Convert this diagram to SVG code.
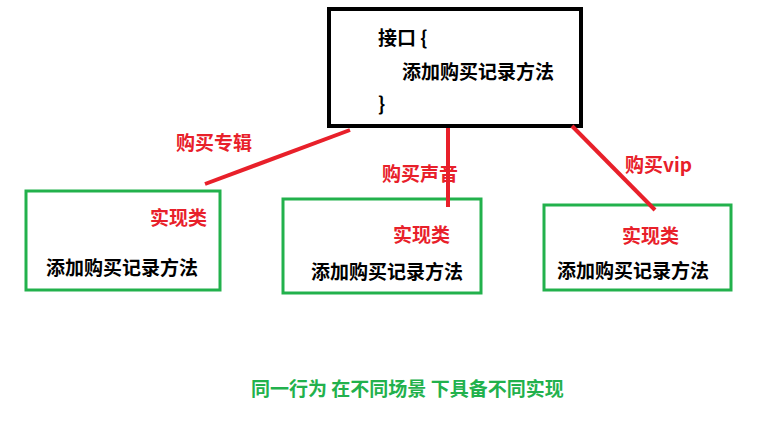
<svg xmlns="http://www.w3.org/2000/svg" width="758" height="431" viewBox="0 0 758 431">
<style>
text{font-family:"Noto Sans CJK SC","Liberation Sans",sans-serif;font-weight:bold;font-size:19px}
.r{fill:#e8202a}.k{fill:#000}.g{fill:#22b14c}
.box{fill:#fff;stroke:#22b14c;stroke-width:3}
.ln{stroke:#e8202a;stroke-width:4}
</style>
<rect width="758" height="431" fill="#fff"/>
<g id="iface"><rect x="329" y="9" width="252" height="117" fill="#fff" stroke="#000" stroke-width="4"/>
<text x="378" y="45" class="k">接口 {</text><text x="402" y="79" class="k">添加购买记录方法</text><text x="378" y="111" class="k">}</text></g>
<g id="n1"><rect class="box" x="26" y="191" width="194" height="99"/><text x="150" y="225" class="r">实现类</text><text x="46" y="275" class="k">添加购买记录方法</text></g>
<g id="n2"><rect class="box" x="283" y="199" width="198" height="94"/><text x="393" y="242" class="r">实现类</text><text x="311" y="279" class="k">添加购买记录方法</text></g>
<g id="n3"><rect class="box" x="544" y="205" width="187" height="85"/><text x="622" y="243" class="r">实现类</text><text x="557" y="278" class="k">添加购买记录方法</text></g>
<g id="edges"><line class="ln" x1="350" y1="130" x2="205" y2="184"/><line class="ln" x1="448" y1="128" x2="448" y2="207"/><line class="ln" x1="572" y1="126" x2="655" y2="210"/></g>
<text x="176" y="150" class="r">购买专辑</text><text x="382" y="181" class="r">购买声音</text><text x="625" y="172" class="r">购买vip</text>
<text x="251" y="396" class="g">同一行为 在不同场景 下具备不同实现</text>
</svg>
